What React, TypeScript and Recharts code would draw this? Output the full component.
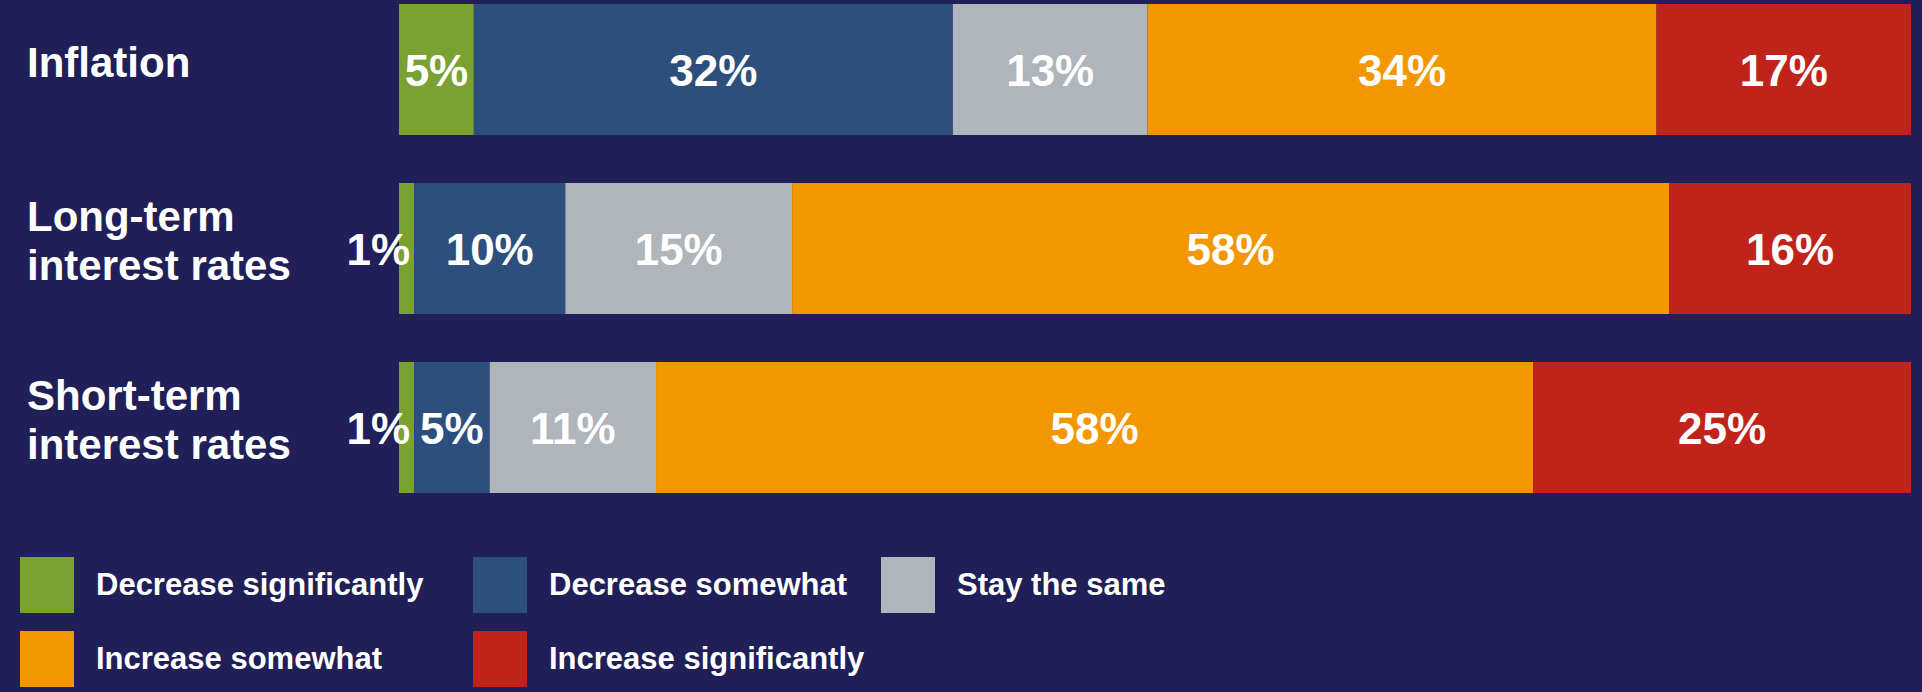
import { BarChart, Bar, XAxis, YAxis, LabelList } from "recharts";

const categories = ["Inflation", "Long-term interest rates", "Short-term interest rates"];

const seriesNames = [
  "Decrease significantly",
  "Decrease somewhat",
  "Stay the same",
  "Increase somewhat",
  "Increase significantly",
];

const decreaseSignificantly = [5, 1, 1];
const decreaseSomewhat = [32, 10, 5];
const stayTheSame = [13, 15, 11];
const increaseSomewhat = [34, 58, 58];
const increaseSignificantly = [17, 16, 25];

const seriesValues = [
  decreaseSignificantly,
  decreaseSomewhat,
  stayTheSame,
  increaseSomewhat,
  increaseSignificantly,
];

const colors = ["#79A232", "#2C4F7E", "#AFB5BB", "#F39700", "#C0231A"];
const bg = "#201F58";
const font = "'Liberation Sans', Arial, Helvetica, sans-serif";

const keys = seriesNames.map((_, i) => `s${i}`);

const data = categories.map((category, ci) => {
  const row: Record<string, string | number> = { category };
  keys.forEach((k, si) => {
    row[k] = seriesValues[si][ci];
  });
  return row;
});

// split "Long-term interest rates" -> ["Long-term", "interest rates"]
const tickLines = (s: string) => {
  const i = s.indexOf(" ");
  return i < 0 ? [s] : [s.slice(0, i), s.slice(i + 1)];
};

const CategoryTick = ({ y, payload }: any) => {
  const lines = tickLines(String(payload.value));
  const lh = 49;
  const base = y - ((lines.length - 1) * lh) / 2 + 15 - 8;
  return (
    <text x={27} y={base} fill="#fff" fontFamily={font} fontWeight="bold" fontSize={42} textAnchor="start">
      {lines.map((l, i) => (
        <tspan key={i} x={27} y={base + i * lh}>
          {l}
        </tspan>
      ))}
    </text>
  );
};

const makeLabel = (key: string) => (props: any) => {
  const { x, y, width, height, value, payload } = props;
  const v = typeof value === "number" && value >= 1 ? value : payload?.[key] ?? value;
  const small = width < 30;
  const tx = small ? x + width - 4 : x + width / 2;
  return (
    <text
      x={tx}
      y={y + height / 2 + 16}
      fill="#fff"
      fontFamily={font}
      fontWeight="bold"
      fontSize={44}
      textAnchor={small ? "end" : "middle"}
    >
      {`${v}%`}
    </text>
  );
};

const legendCols = [20, 473, 881];

function LegendBlock() {
  return (
    <div style={{ position: "absolute", left: 0, top: 557, width: 1922, height: 130 }}>
      {seriesNames.map((name, i) => {
        const row = Math.floor(i / 3);
        const col = i % 3;
        return (
          <div
            key={name}
            style={{
              position: "absolute",
              left: legendCols[col],
              top: row * 74,
              height: 56,
              display: "flex",
              alignItems: "center",
            }}
          >
            <div style={{ width: 54, height: 56, background: colors[i], marginRight: 22 }} />
            <span
              style={{
                color: "#fff",
                fontFamily: font,
                fontWeight: "bold",
                fontSize: 31,
                whiteSpace: "nowrap",
              }}
            >
              {name}
            </span>
          </div>
        );
      })}
    </div>
  );
}

export default function App() {
  return (
    <div
      style={{
        position: "fixed",
        left: 0,
        top: 0,
        width: 1922,
        height: 692,
        background: bg,
        overflow: "hidden",
      }}
    >
      <div style={{ position: "absolute", left: 0, top: -20 }}>
        <BarChart
          width={1922}
          height={537}
          data={data}
          layout="vertical"
          stackOffset="expand"
          margin={{ top: 0, right: 11, bottom: 0, left: 19 }}
        >
          <XAxis type="number" hide domain={[0, 1]} />
          <YAxis
            type="category"
            dataKey="category"
            width={380}
            axisLine={false}
            tickLine={false}
            tick={<CategoryTick />}
            interval={0}
          />
          {keys.map((k, i) => (
            <Bar
              key={k}
              dataKey={k}
              name={seriesNames[i]}
              stackId="a"
              fill={colors[i]}
              barSize={131}
              isAnimationActive={false}
            >
              <LabelList dataKey={k} content={makeLabel(k)} />
            </Bar>
          ))}
        </BarChart>
      </div>
      <LegendBlock />
    </div>
  );
}
